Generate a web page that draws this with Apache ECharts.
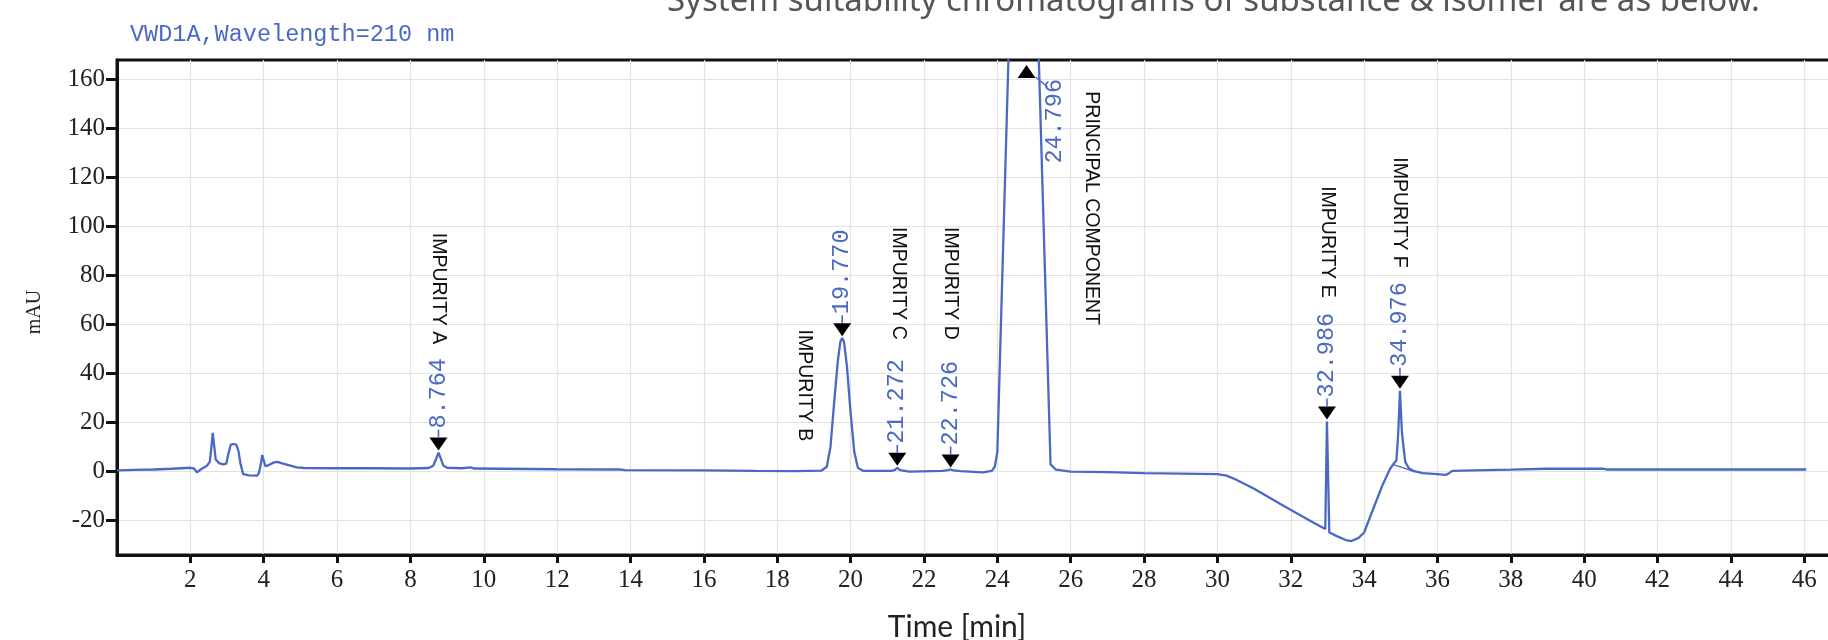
<!DOCTYPE html>
<html>
<head>
<meta charset="utf-8">
<title>VWD1A chromatogram</title>
<script src="https://cdn.jsdelivr.net/npm/echarts@6/dist/echarts.min.js"></script>
<style>
  html, body { margin: 0; padding: 0; background: #ffffff; }
  #chart { width: 1828px; height: 640px; }
</style>
</head>
<body>
<div id="chart"></div>
<script>
// Detector trace: retention time (min) and absorbance (mAU)
const traceTime = [
  0.00, 0.50, 1.00, 1.50, 2.00, 2.10, 2.18, 2.28, 2.45, 2.53, 2.57, 2.61, 2.65, 2.69, 2.78, 2.90,
  2.98, 3.04, 3.10, 3.18, 3.25, 3.31, 3.37, 3.44, 3.60, 3.82, 3.87, 3.92, 3.96, 4.00, 4.05, 4.15,
  4.28, 4.38, 4.50, 4.70, 4.90, 5.10, 6.00, 6.85, 6.90, 8.00, 8.50, 8.62, 8.70, 8.764, 8.83, 8.90,
  9.00, 9.40, 9.65, 9.72, 10.50, 12.00, 13.70, 13.85, 16.00, 17.40, 18.50, 19.20, 19.35, 19.45, 19.55, 19.65,
  19.72, 19.770, 19.82, 19.90, 20.00, 20.10, 20.20, 20.35, 21.10, 21.20, 21.272, 21.35, 21.60, 22.50, 22.65, 22.726,
  22.80, 23.00, 23.60, 23.85, 23.93, 24.00, 24.40, 24.796, 25.05, 25.45, 25.60, 26.00, 27.00, 28.00, 29.00, 30.00,
  30.25, 30.50, 31.00, 31.73, 32.50, 32.94, 32.986, 33.05, 33.30, 33.50, 33.65, 33.85, 34.00, 34.27, 34.50, 34.70,
  34.80, 34.88, 34.93, 34.976, 35.03, 35.12, 35.22, 35.36, 35.60, 36.00, 36.22, 36.30, 36.40, 37.00, 38.00, 39.00,
  40.50, 40.60, 42.00, 46.05
];
const traceSignal = [
  0.5, 0.7, 0.9, 1.2, 1.6, 1.3, -0.3, 0.9, 2.4, 4.0, 9.5, 15.8, 10.5, 5.0, 3.5, 3.0,
  3.3, 7.5, 11.0, 11.3, 11.0, 8.5, 3.0, -1.0, -1.5, -1.6, -0.5, 3.0, 6.8, 4.5, 2.2, 2.8,
  3.8, 4.0, 3.4, 2.6, 1.8, 1.5, 1.4, 1.4, 1.2, 1.3, 1.5, 2.4, 5.2, 7.8, 5.2, 2.4,
  1.6, 1.4, 1.8, 1.3, 1.2, 1.0, 0.9, 0.6, 0.5, 0.3, 0.2, 0.4, 2.0, 10.0, 28.0, 45.0,
  53.0, 54.5, 53.0, 43.0, 24.0, 8.0, 1.5, 0.3, 0.3, 0.6, 1.6, 0.6, 0.0, 0.3, 0.6, 0.9,
  0.5, 0.2, -0.3, 0.3, 2.0, 8.0, 220, 700, 210, 3.0, 0.8, 0.0, -0.2, -0.6, -0.8, -1.0,
  -1.6, -3.2, -7.0, -13.3, -19.8, -23.4, 20.5, -24.8, -26.6, -27.9, -28.3, -27.0, -24.8, -14.3, -5.5, 1.0,
  3.2, 4.6, 16.0, 33.0, 16.0, 4.0, 1.4, 0.2, -0.6, -1.0, -1.3, -0.8, 0.3, 0.5, 0.8, 1.2,
  1.2, 0.9, 0.9, 0.9
];

// Integrated peaks
const peakRt = [8.764, 19.770, 21.272, 22.726, 24.796, 32.986, 34.976];
const peakNames = ['IMPURITY A', 'IMPURITY B', 'IMPURITY C', 'IMPURITY D',
                   'PRINCIPAL COMPONENT', 'IMPURITY E', 'IMPURITY F'];

// Integration baseline drawn under peak F
const intBaseTime = [34.78, 35.33];
const intBaseSignal = [3.0, 0.2];

// Axis ticks
const xTicks = [2, 4, 6, 8, 10, 12, 14, 16, 18, 20, 22, 24, 26, 28, 30, 32, 34, 36, 38, 40, 42, 44, 46];
const yTicks = [-20, 0, 20, 40, 60, 80, 100, 120, 140, 160];

// Layout: axis ranges and where the peak-name captions start (time, mAU)
const X_MIN = 0, X_MAX = 47, Y_MIN = -34, Y_MAX = 168;
const nameLabelAt = [[8.76, 97.5], [18.75, 58], [21.3, 99.8], [22.73, 99.8],
                     [26.57, 155.2], [33.0, 116.5], [34.97, 128.3]];

const BLUE = '#4a69c4';
const RT_FONT = '23.5px "Liberation Mono", monospace';
const NAME_FONT = '19.5px "Liberation Sans", Arial, sans-serif';

const chart = echarts.init(document.getElementById('chart'));

const trace = traceTime.map((t, i) => [t, traceSignal[i]]);
const intBase = intBaseTime.map((t, i) => [t, intBaseSignal[i]]);

const serifLabel = { fontFamily: '"Liberation Serif", "Times New Roman", serif', fontSize: 25, color: '#222' };

chart.setOption({
  animation: false,
  backgroundColor: '#ffffff',
  grid: {
    left: 117, top: 60, width: 1724, height: 495,
    outerBoundsMode: 'none', containLabel: false,
    show: true, borderColor: '#111', borderWidth: 3, backgroundColor: 'transparent'
  },
  xAxis: {
    type: 'value', min: X_MIN, max: X_MAX,
    axisLine: { show: true, onZero: false, lineStyle: { color: '#111', width: 3 } },
    axisTick: { show: true, customValues: xTicks, length: 8, lineStyle: { color: '#111', width: 3 } },
    axisLabel: Object.assign({ customValues: xTicks, margin: 13 }, serifLabel),
    splitLine: { show: true, lineStyle: { color: '#e2e2e2', width: 1.2 } }
  },
  yAxis: {
    type: 'value', min: Y_MIN, max: Y_MAX,
    axisLine: { show: true, onZero: false, lineStyle: { color: '#111', width: 3 } },
    axisTick: { show: true, customValues: yTicks, length: 11, lineStyle: { color: '#111', width: 3 } },
    axisLabel: Object.assign({ customValues: yTicks, margin: 12 }, serifLabel),
    splitLine: { show: true, lineStyle: { color: '#e2e2e2', width: 1.2 } }
  },
  series: [
    {
      type: 'line', name: 'VWD1A', data: trace, showSymbol: false, symbol: 'none',
      lineStyle: { color: BLUE, width: 2.3 }, clip: true, z: 3
    },
    {
      type: 'line', name: 'baseline', data: intBase, showSymbol: false, symbol: 'none',
      lineStyle: { color: BLUE, width: 1.4 }, clip: true, z: 3
    }
  ]
});

// Peak markers, retention-time labels and peak names placed through the axes
function px(t, v) { return chart.convertToPixel({ gridIndex: 0 }, [t, v]); }
function apexNear(rt) {
  let best = -Infinity;
  traceTime.forEach((t, i) => { if (Math.abs(t - rt) < 0.06) best = Math.max(best, traceSignal[i]); });
  return best;
}

const els = [];
const frameTop = px(X_MIN, Y_MAX)[1];

peakRt.forEach((rt, i) => {
  const apex = apexNear(rt);
  const label = rt.toFixed(3);
  if (apex <= Y_MAX) {
    const [x, y] = px(rt, apex);
    const tip = y - 2;
    els.push({ type: 'polygon', z: 10, shape: { points: [[x - 9, tip - 13], [x + 9, tip - 13], [x, tip]] },
               style: { fill: '#000' } });
    els.push({ type: 'line', z: 10, shape: { x1: x, y1: tip - 13, x2: x, y2: tip - 21 },
               style: { stroke: BLUE, lineWidth: 1.6 } });
    els.push({ type: 'text', z: 10, x: x, y: tip - 22, rotation: Math.PI / 2,
               style: { text: label, font: RT_FONT, fill: BLUE,
                        align: 'left', textAlign: 'left', verticalAlign: 'middle', textVerticalAlign: 'middle' } });
  } else {
    // off-scale peak: upward marker just under the frame
    const x = px(rt, Y_MAX)[0];
    els.push({ type: 'polygon', z: 10, shape: { points: [[x - 9, frameTop + 18], [x + 9, frameTop + 18], [x, frameTop + 5]] },
               style: { fill: '#000' } });
    els.push({ type: 'line', z: 10, shape: { x1: x + 9, y1: frameTop + 17, x2: x + 21, y2: frameTop + 27 },
               style: { stroke: BLUE, lineWidth: 1.4 } });
    els.push({ type: 'text', z: 10, x: x + 28, y: frameTop + 19, rotation: Math.PI / 2,
               style: { text: label, font: RT_FONT, fill: BLUE,
                        align: 'right', textAlign: 'right', verticalAlign: 'middle', textVerticalAlign: 'middle' } });
  }
  const [nx, ny] = px(nameLabelAt[i][0], nameLabelAt[i][1]);
  els.push({ type: 'text', z: 10, x: nx, y: ny, rotation: -Math.PI / 2,
             style: { text: peakNames[i], font: NAME_FONT, fill: '#111',
                      align: 'left', textAlign: 'left', verticalAlign: 'middle', textVerticalAlign: 'middle' } });
});

// Axis titles
els.push({ type: 'text', z: 10, x: 957, y: 627,
           style: { text: 'Time [min]', font: '30px Lato, "Open Sans", sans-serif', fill: '#222',
                    align: 'center', textAlign: 'center', verticalAlign: 'middle', textVerticalAlign: 'middle' } });
els.push({ type: 'text', z: 10, x: 35, y: 312, rotation: Math.PI / 2,
           style: { text: 'mAU', font: '20px "Liberation Serif", serif', fill: '#222',
                    align: 'center', textAlign: 'center', verticalAlign: 'middle', textVerticalAlign: 'middle' } });

// Signal description above the plot and the caption line at the top edge
els.push({ type: 'text', z: 10, x: 130, y: 35,
           style: { text: 'VWD1A,Wavelength=210 nm', font: RT_FONT, fill: BLUE,
                    align: 'left', textAlign: 'left', verticalAlign: 'middle', textVerticalAlign: 'middle' } });
els.push({ type: 'text', z: 10, x: 667, y: 2,
           style: { text: 'System suitability chromatograms of substance & isomer are as below.',
                    font: '33px "Noto Sans", "Open Sans", sans-serif', fill: '#555',
                    align: 'left', textAlign: 'left', verticalAlign: 'middle', textVerticalAlign: 'middle' } });

chart.setOption({ graphic: { elements: els } });
</script>
</body>
</html>
